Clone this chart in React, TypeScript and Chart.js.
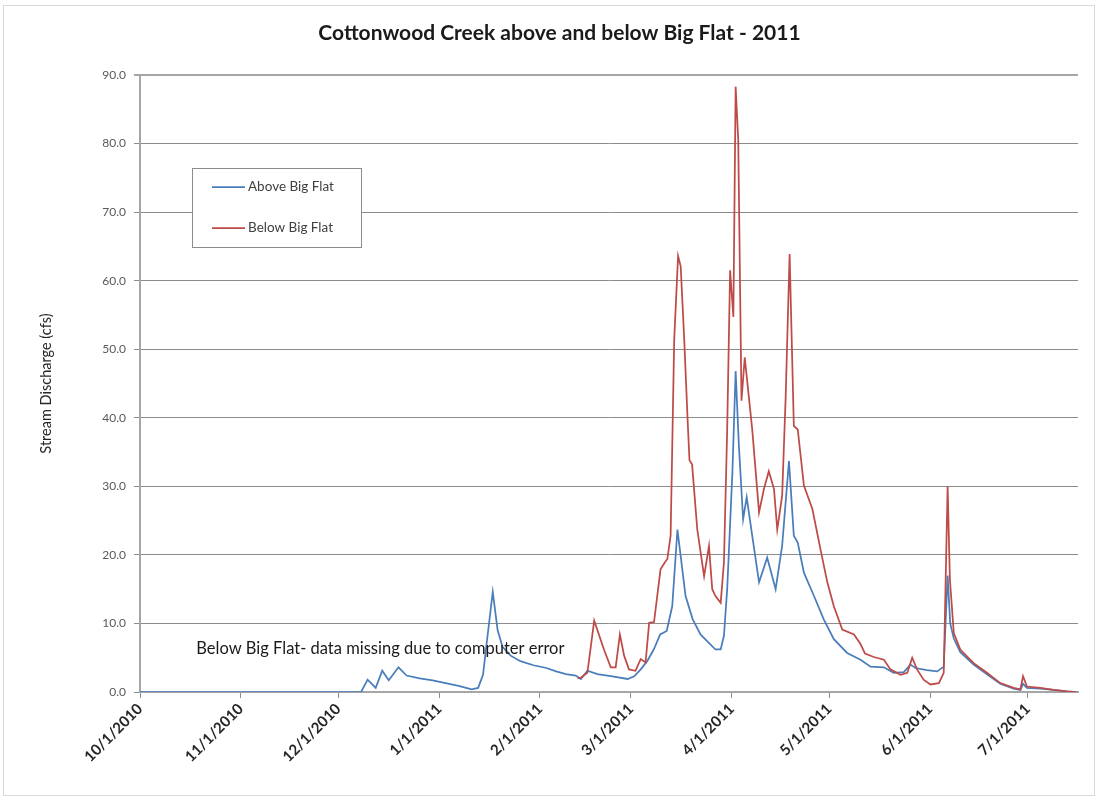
import React, { useEffect, useRef } from "react";
import { Chart, registerables } from "chart.js";

Chart.register(...registerables);

// Day offsets from 10/1/2010
const tickDays = [0, 31, 61, 92, 123, 151, 182, 212, 243, 273];
const tickLabels = [
  "10/1/2010", "11/1/2010", "12/1/2010", "1/1/2011", "2/1/2011",
  "3/1/2011", "4/1/2011", "5/1/2011", "6/1/2011", "7/1/2011",
];

const aboveDays = [
  0, 68, 70, 72.5, 74.5, 76.5, 79.5, 82, 86, 90, 94, 98, 102, 104, 105.5, 106.5, 108.5, 110, 111.5, 114,
  117, 121, 125, 128, 131, 134, 135.6, 137.6, 140.7, 144.8, 150, 152, 154, 156, 158, 160, 162, 163.7, 165.3, 166.3,
  167.8, 170, 172.4, 174.5, 177, 178.6, 179.6, 180.6, 182.2, 183.2, 184.2, 185.5, 186.6, 188.3, 190.4, 192.9, 195.5, 197.5, 199.6, 201.1,
  202.3, 204.2, 207.3, 210.3, 213.4, 217.5, 221.6, 224.7, 228.8, 231.8, 234.9, 237, 238.5, 242, 245.2, 247.2, 248.4, 249.2, 250.3, 252.3,
  256.4, 260.5, 264.6, 268.7, 270.8, 271.6, 272.8, 276.9, 281, 285, 288,
];
const aboveValues = [
  0, 0, 1.8, 0.6, 3.1, 1.7, 3.6, 2.4, 2.0, 1.7, 1.3, 0.9, 0.4, 0.6, 2.5, 6.6, 14.6, 9.0, 6.6, 5.3,
  4.5, 3.9, 3.5, 3.0, 2.6, 2.4, 1.9, 3.1, 2.6, 2.3, 1.9, 2.3, 3.3, 4.5, 6.2, 8.4, 8.9, 12.5, 23.7, 19.8,
  14.0, 10.6, 8.4, 7.4, 6.2, 6.2, 8.2, 15.0, 32.0, 46.8, 35.9, 25.2, 28.4, 22.8, 16.0, 19.6, 15.0, 21.3, 33.7, 22.8,
  21.8, 17.4, 14.0, 10.6, 7.7, 5.7, 4.7, 3.7, 3.6, 2.8, 2.9, 4.0, 3.5, 3.2, 3.0, 3.7, 17.0, 10.0, 7.8, 5.8,
  4.0, 2.6, 1.2, 0.5, 0.3, 1.2, 0.6, 0.5, 0.3, 0.1, 0,
];

const belowDays = [
  134.6, 135.6, 137.6, 139.7, 142.7, 144.8, 146.3, 147.6, 148.9, 150.4, 152.4, 154, 155.5, 156.6, 158.1, 160.1, 161.4, 162.2, 163.2, 164.3,
  165.5, 166.3, 167.4, 168.4, 169, 169.8, 171.4, 173.5, 175, 176, 177, 178.6, 179.6, 180.6, 181.5, 182.5, 183.2, 184, 185, 186,
  188.3, 190.4, 191.9, 193.4, 195, 196, 197.5, 198.6, 199.8, 201.1, 202.3, 204.2, 206.8, 209.3, 211.4, 213.4, 216, 219.6, 221.6, 223,
  225.7, 228.8, 230.8, 233.9, 236, 237.5, 239, 241, 243.1, 245.7, 247.2, 248.4, 249.1, 250.3, 252.3, 256.4, 260.5, 264.6, 268.7, 270.8,
  271.6, 272.8, 276.9, 281, 285.1, 288,
];
const belowValues = [
  2.0, 2.1, 2.8, 10.4, 6.2, 3.6, 3.6, 8.4, 5.3, 3.3, 3.1, 4.8, 4.3, 10.1, 10.2, 17.9, 18.9, 19.4, 22.8, 51.3,
  63.6, 62.1, 51.3, 40.0, 33.8, 33.2, 23.7, 16.9, 21.3, 15.0, 14.0, 13.0, 18.9, 38.3, 61.5, 54.7, 88.3, 80.5, 42.5, 48.8,
  38.3, 26.2, 29.6, 32.2, 29.6, 23.7, 28.6, 43.2, 63.9, 38.8, 38.3, 30.1, 26.7, 20.8, 16.0, 12.5, 9.1, 8.4, 7.0, 5.6,
  5.1, 4.7, 3.3, 2.5, 2.8, 5.0, 3.3, 1.8, 1.1, 1.3, 2.8, 30.0, 16.4, 8.6, 6.2, 4.2, 2.8, 1.3, 0.6, 0.4,
  2.3, 0.8, 0.6, 0.3, 0.1, 0,
];

const seriesNames = ["Above Big Flat", "Below Big Flat"];
const chartTitle = "Cottonwood Creek above and below Big Flat - 2011";
const yTitle = "Stream Discharge (cfs)";
const noteText = "Below Big Flat- data missing due to computer error";

const BLUE = "#4A7EBB";
const RED = "#BE4B48";
const GRID = "#8c8c8c";
const AXIS = "#a6a6a6";
const FONT = "Lato, 'Open Sans', sans-serif";

const decor = {
  id: "decor",
  beforeDraw(chart: any) {
    const { ctx, width, height } = chart;
    ctx.save();
    ctx.fillStyle = "#ffffff";
    ctx.fillRect(0, 0, width, height);
    ctx.strokeStyle = "#d9d9d9";
    ctx.lineWidth = 1;
    ctx.strokeRect(3.5, 5.5, width - 8, height - 9);
    // title
    ctx.fillStyle = "#1a1a1a";
    ctx.font = `bold 21px ${FONT}`;
    ctx.textAlign = "center";
    ctx.textBaseline = "middle";
    ctx.fillText(chartTitle, width / 2 + 10, 33);
    ctx.restore();
  },
  afterDatasetsDraw(chart: any) {
    const { ctx, chartArea, scales } = chart;
    ctx.save();
    // legend box
    const bx = chartArea.left + 52;
    const by = chartArea.top + 93;
    const bw = 169;
    const bh = 79;
    ctx.fillStyle = "#ffffff";
    ctx.fillRect(bx, by, bw, bh);
    ctx.strokeStyle = GRID;
    ctx.lineWidth = 1;
    ctx.strokeRect(Math.round(bx) + 0.5, Math.round(by) + 0.5, bw, bh);
    const rows = [by + 19, by + 60];
    chart.data.datasets.forEach((ds: any, i: number) => {
      const y = rows[i];
      ctx.strokeStyle = ds.borderColor;
      ctx.lineWidth = 1.75;
      ctx.beginPath();
      ctx.moveTo(bx + 20, y);
      ctx.lineTo(bx + 53, y);
      ctx.stroke();
      ctx.fillStyle = "#404040";
      ctx.font = `13.5px ${FONT}`;
      ctx.textAlign = "left";
      ctx.textBaseline = "middle";
      ctx.fillText(ds.label, bx + 56, y);
    });
    // note
    const nx = scales.x.getPixelForValue(17.3);
    const ny = scales.y.getPixelForValue(6.3);
    ctx.fillStyle = "#1a1a1a";
    ctx.font = `16.5px ${FONT}`;
    ctx.textAlign = "left";
    ctx.textBaseline = "middle";
    ctx.fillText(noteText, nx, ny);
    ctx.restore();
  },
};

export default function App() {
  const ref = useRef<HTMLCanvasElement>(null);
  useEffect(() => {
    document.body.style.margin = "0";
    const canvas = ref.current!;
    const chart = new Chart(canvas, {
      type: "line",
      data: {
        datasets: [
          {
            label: seriesNames[0],
            data: aboveDays.map((d, i) => ({ x: d, y: aboveValues[i] })),
            borderColor: BLUE,
            backgroundColor: BLUE,
            borderWidth: 1.75,
            pointRadius: 0,
            tension: 0,
            order: 1,
          },
          {
            label: seriesNames[1],
            data: belowDays.map((d, i) => ({ x: d, y: belowValues[i] })),
            borderColor: RED,
            backgroundColor: RED,
            borderWidth: 1.75,
            pointRadius: 0,
            tension: 0,
            order: 0,
          },
        ],
      },
      options: {
        responsive: false,
        animation: false,
        devicePixelRatio: 1,
        layout: { padding: { left: 0, right: 21, top: 75, bottom: 0 } },
        plugins: {
          legend: { display: false },
          tooltip: { enabled: false },
          title: { display: false },
        },
        scales: {
          x: {
            type: "linear",
            min: 0,
            max: 288.5,
            afterBuildTicks: (scale: any) => {
              scale.ticks = tickDays.map((v) => ({ value: v }));
            },
            afterFit: (scale: any) => {
              scale.height = 107;
            },
            ticks: {
              autoSkip: false,
              minRotation: 45,
              maxRotation: 45,
              padding: 2,
              color: "#262626",
              font: { family: FONT, size: 15, weight: "bold" },
              callback: (_v: any, i: number) => tickLabels[i],
            },
            grid: {
              drawOnChartArea: false,
              drawTicks: true,
              tickLength: 6,
              color: GRID,
            },
            border: { color: AXIS, width: 2 },
          },
          y: {
            min: 0,
            max: 90,
            afterFit: (scale: any) => {
              scale.width = 140;
            },
            ticks: {
              stepSize: 10,
              padding: 8,
              color: "#595959",
              font: { family: FONT, size: 12 },
              callback: (v: any) => Number(v).toFixed(1),
            },
            grid: {
              color: (c: any) => (c.tick && c.tick.value === 90 ? "#a6a6a6" : GRID),
              lineWidth: (c: any) => (c.tick && c.tick.value === 90 ? 2 : 1),
              tickLength: 6,
            },
            border: { color: AXIS, width: 2 },
            title: {
              display: true,
              text: yTitle,
              color: "#262626",
              font: { family: FONT, size: 14.5 },
              padding: { top: 38, bottom: 0 },
            },
          },
        },
      },
      plugins: [decor],
    } as any);
    return () => chart.destroy();
  }, []);
  return <canvas ref={ref} width={1099} height={799} />;
}
